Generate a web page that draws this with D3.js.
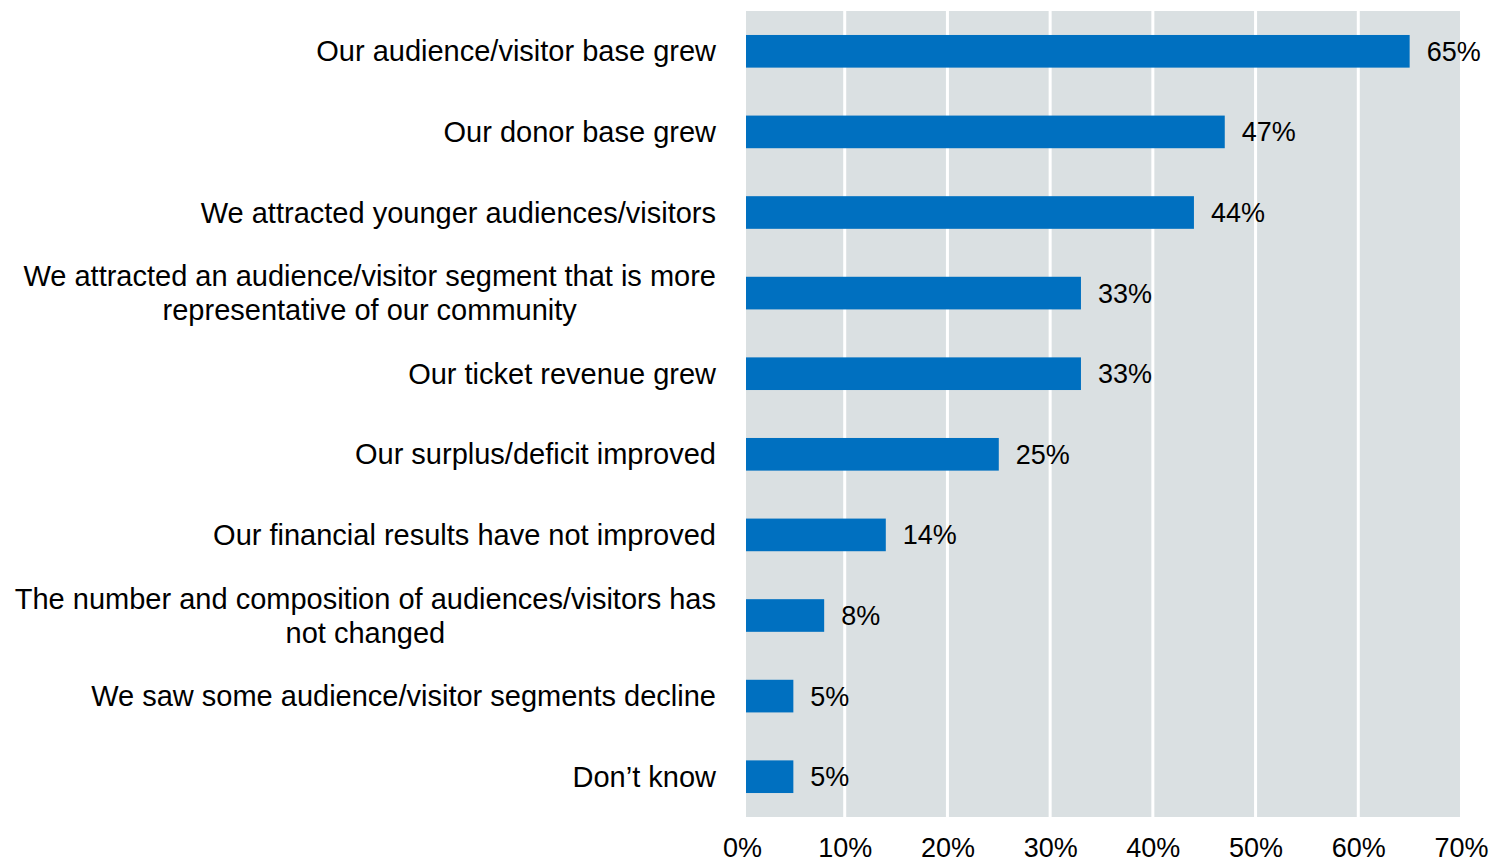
<!DOCTYPE html>
<html>
<head>
<meta charset="utf-8">
<script src="https://cdn.jsdelivr.net/npm/d3@7"></script>
<style>
  html, body { margin: 0; padding: 0; background: #fff; }
  svg { display: block; }
  text { font-family: "Liberation Sans", Arial, sans-serif; fill: #000; }
</style>
</head>
<body>
<svg id="chart" width="1490" height="860"></svg>
<script>
// Survey responses: outcomes reported, share of respondents (%)
const categories = [
  ["Our audience/visitor base grew"],
  ["Our donor base grew"],
  ["We attracted younger audiences/visitors"],
  ["We attracted an audience/visitor segment that is more", "representative of our community"],
  ["Our ticket revenue grew"],
  ["Our surplus/deficit improved"],
  ["Our financial results have not improved"],
  ["The number and composition of audiences/visitors has", "not changed"],
  ["We saw some audience/visitor segments decline"],
  ["Don\u2019t know"]
];
const values = [65, 47, 44, 33, 33, 25, 14, 8, 5, 5];
const tickValues = [0, 10, 20, 30, 40, 50, 60, 70];
const tickLabels = ["0%", "10%", "20%", "30%", "40%", "50%", "60%", "70%"];

const svg = d3.select("#chart");
const plot = { left: 742, right: 1461, top: 11, bottom: 817 };
const inset = 4; // white gap at the zero line
const labelRight = 716;

const x = d3.scaleLinear().domain([0, 70]).range([plot.left, plot.right]);
const y = d3.scaleBand()
  .domain(d3.range(categories.length))
  .range([plot.top, plot.bottom])
  .paddingInner(0.595)
  .paddingOuter(0.2975);

// Plot background
svg.append("rect")
  .attr("x", x(0) + inset)
  .attr("y", plot.top)
  .attr("width", plot.right - 1 - (x(0) + inset))
  .attr("height", plot.bottom - plot.top)
  .attr("fill", "#dae0e2");

// Vertical gridlines
svg.append("g")
  .selectAll("line")
  .data(tickValues.filter(t => t > 0 && t < 70))
  .join("line")
  .attr("x1", d => x(d)).attr("x2", d => x(d))
  .attr("y1", plot.top).attr("y2", plot.bottom)
  .attr("stroke", "#ffffff")
  .attr("stroke-width", 3);

// Bars
svg.append("g")
  .selectAll("rect")
  .data(values)
  .join("rect")
  .attr("x", x(0) + inset)
  .attr("y", (d, i) => y(i))
  .attr("width", d => x(d) - x(0) - inset)
  .attr("height", y.bandwidth())
  .attr("fill", "#0070c0");

// Value labels
svg.append("g")
  .selectAll("text")
  .data(values)
  .join("text")
  .attr("x", d => x(d) + 17)
  .attr("y", (d, i) => y(i) + y.bandwidth() / 2)
  .attr("dy", "0.35em")
  .attr("font-size", 27)
  .text(d => d + "%");

// Category labels: a centred block whose widest line ends at labelRight
const lineGap = 34;
const catG = svg.append("g")
  .selectAll("text")
  .data(categories)
  .join("text")
  .attr("font-size", 29)
  .attr("text-anchor", "middle");
catG.each(function(lines, i) {
  const t = d3.select(this);
  const cy = y(i) + y.bandwidth() / 2;
  const spans = lines.map((ln, k) =>
    t.append("tspan")
      .attr("y", cy + (k - (lines.length - 1) / 2) * lineGap)
      .attr("dy", "0.35em")
      .text(ln));
  const widest = d3.max(spans, s => s.node().getComputedTextLength());
  spans.forEach(s => s.attr("x", labelRight - widest / 2));
});

// X axis labels
const xAxis = d3.axisBottom(x)
  .tickValues(tickValues)
  .tickFormat((d, i) => tickLabels[i])
  .tickSize(0)
  .tickPadding(0);
const axG = svg.append("g")
  .attr("transform", `translate(0,${plot.bottom + 21})`)
  .call(xAxis);
axG.select(".domain").remove();
axG.selectAll("text")
  .attr("font-size", 27)
  .attr("font-family", "\"Liberation Sans\", Arial, sans-serif")
  .attr("fill", "#000");
</script>
</body>
</html>
